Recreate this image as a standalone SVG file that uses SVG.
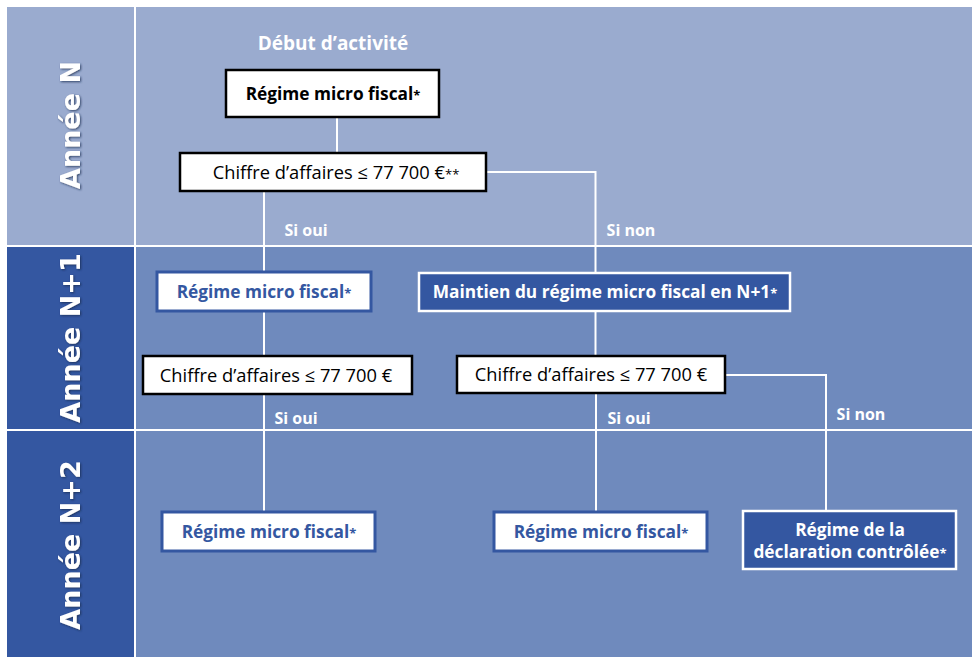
<svg xmlns="http://www.w3.org/2000/svg" width="974" height="657" viewBox="0 0 974 657">
<style>
.lbl{font-family:"Open Sans","Noto Sans",sans-serif;font-size:17.3px;text-anchor:middle}
.reg{font-size:18.3px}
.big{font-size:19px}
.b{font-weight:bold}
.w{fill:#ffffff}
.k{fill:#000000}
.bl{fill:#3457a1}
.side{font-family:"DejaVu Sans",sans-serif;font-weight:bold;font-size:27px;fill:#ffffff;text-anchor:middle}
.small{font-size:13px}
.sil{font-size:16px}
.boxK{fill:#ffffff;stroke:#000000;stroke-width:2.5}
.boxB{fill:#ffffff;stroke:#3457a1;stroke-width:3}
.boxD{fill:#3457a1;stroke:#ffffff;stroke-width:2.5}
.conn{fill:none;stroke:#ffffff;stroke-width:2}
.sep{stroke:#ffffff;stroke-width:2}
</style>
<defs>
<filter id="sh" x="-20%" y="-20%" width="140%" height="140%">
<feDropShadow dx="1" dy="1" stdDeviation="0.8" flood-color="#1a2a50" flood-opacity="0.8"/>
</filter>
</defs>
<rect width="974" height="657" fill="#ffffff"/>
<g id="bands">
<rect x="7" y="7" width="965" height="239" fill="#9aabcf"/>
<rect x="7" y="246" width="965" height="184" fill="#6f8abd"/>
<rect x="7" y="430" width="965" height="227" fill="#6f8abd"/>
<rect x="7" y="246" width="127" height="411" fill="#3457a1"/>
<line class="sep" x1="135" y1="7" x2="135" y2="657"/>
<line class="sep" x1="7" y1="246" x2="972" y2="246"/>
<line class="sep" x1="7" y1="430" x2="972" y2="430"/>
</g>
<g id="row-labels" filter="url(#sh)">
<text class="side" transform="translate(80,125) rotate(-90)">Année N</text>
<text class="side" transform="translate(80,338) rotate(-90)">Année N+1</text>
<text class="side" transform="translate(80,545) rotate(-90)">Année N+2</text>
</g>
<g id="connectors">
<line class="conn" x1="337" y1="117" x2="337" y2="153"/>
<line class="conn" x1="264" y1="191" x2="264" y2="272"/>
<polyline class="conn" points="486,172 595.5,172 595.5,273"/>
<line class="conn" x1="264" y1="311" x2="264" y2="356"/>
<line class="conn" x1="595.5" y1="311" x2="595.5" y2="356"/>
<line class="conn" x1="264" y1="394" x2="264" y2="512"/>
<line class="conn" x1="596" y1="393" x2="596" y2="512"/>
<polyline class="conn" points="725,375 826,375 826,511"/>
<text class="lbl b w sil" x="306" y="236">Si oui</text>
<text class="lbl b w sil" x="631" y="236">Si non</text>
<text class="lbl b w sil" x="296" y="424">Si oui</text>
<text class="lbl b w sil" x="629" y="424">Si oui</text>
<text class="lbl b w sil" x="861" y="420">Si non</text>
</g>
<g id="debut">
<text class="lbl b w big" x="333" y="50">Début d’activité</text>
</g>
<g id="n1">
<rect class="boxK" x="226" y="70" width="213" height="47"/>
<text class="lbl b k" x="333" y="100">Régime micro fiscal<tspan class="small">*</tspan></text>
</g>
<g id="n2">
<rect class="boxK" x="180" y="153" width="306" height="38"/>
<text class="lbl reg k" x="336" y="179">Chiffre d’affaires ≤ 77 700 €<tspan class="small">**</tspan></text>
</g>
<g id="n3">
<rect class="boxB" x="157" y="272" width="214" height="39"/>
<text class="lbl b bl" x="264" y="298">Régime micro fiscal<tspan class="small">*</tspan></text>
</g>
<g id="n4">
<rect class="boxD" x="419" y="273" width="371" height="38"/>
<text class="lbl b w" x="605" y="298">Maintien du régime micro fiscal en N+1<tspan class="small">*</tspan></text>
</g>
<g id="n5">
<rect class="boxK" x="143" y="356" width="269" height="38"/>
<text class="lbl reg k" x="276" y="382">Chiffre d’affaires ≤ 77 700 €</text>
</g>
<g id="n6">
<rect class="boxK" x="457" y="356" width="268" height="37"/>
<text class="lbl reg k" x="591" y="381">Chiffre d’affaires ≤ 77 700 €</text>
</g>
<g id="n7">
<rect class="boxB" x="162" y="512" width="213" height="39"/>
<text class="lbl b bl" x="269" y="538">Régime micro fiscal<tspan class="small">*</tspan></text>
</g>
<g id="n8">
<rect class="boxB" x="494" y="512" width="213" height="39"/>
<text class="lbl b bl" x="601" y="538">Régime micro fiscal<tspan class="small">*</tspan></text>
</g>
<g id="n9">
<rect class="boxD" x="743" y="511" width="213" height="58"/>
<text class="lbl b w" x="850" y="536">Régime de la</text>
<text class="lbl b w" x="850" y="558">déclaration contrôlée<tspan class="small">*</tspan></text>
</g>
</svg>
